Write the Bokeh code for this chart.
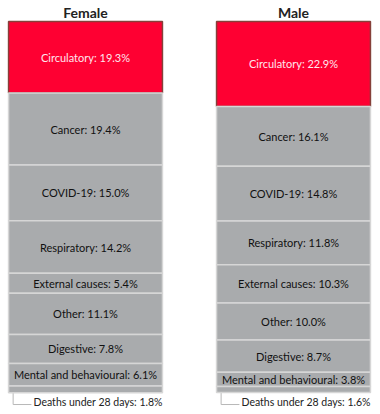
from bokeh.plotting import figure
from bokeh.models import Range1d, ColumnDataSource
from bokeh.core.properties import value
from bokeh.embed import file_html
from bokeh.resources import INLINE

# ---- data ----
sexes = ["Female", "Male"]
categories = ["Circulatory", "Cancer", "COVID-19", "Respiratory", "External causes",
              "Other", "Digestive", "Mental and behavioural", "Deaths under 28 days"]
female = [19.3, 19.4, 15.0, 14.2, 5.4, 11.1, 7.8, 6.1, 1.8]
male = [22.9, 16.1, 14.8, 11.8, 10.3, 10.0, 8.7, 3.8, 1.6]

RED = "#fe0032"
GRAY = "#a9abad"
FONT = "Lato"
BAR_W = 0.74

p = figure(width=380, height=414, output_backend="svg", toolbar_location=None,
           x_range=Range1d(-0.4087, 1.4183), y_range=Range1d(105.96, -5.66),
           min_border=0, min_border_left=0, min_border_right=0,
           min_border_top=0, min_border_bottom=0)
p.xaxis.visible = False
p.yaxis.visible = False
p.grid.visible = False
p.outline_line_color = None
p.background_fill_color = "white"
p.border_fill_color = "white"

bx, btop, bbot, bcol, blc = [], [], [], [], []
lx, ly, ltxt, lcol = [], [], [], []
for xi, vals in enumerate([female, male]):
    cum = 0.0
    for i, (cat, v) in enumerate(zip(categories, vals)):
        top, bot = cum, cum + v
        cum = bot
        bx.append(xi); btop.append(top); bbot.append(bot)
        bcol.append(RED if i == 0 else GRAY)
        blc.append("#86403a" if i == 0 else "#d6d6d6")
        if i < len(categories) - 1:
            lx.append(xi); ly.append((top + bot) / 2)
            ltxt.append(f"{cat}: {v:.1f}%")
            lcol.append("#ffe6ee" if i == 0 else "#111111")
    # leader line and label for last category
    left = xi - BAR_W / 2
    p.line([left + 0.022, left + 0.022, left + 0.11], [cum, 103.27, 103.27],
           line_color="#b8b8b8", line_width=1)
    p.text([left + 0.12], [102.5], text=[f"{categories[-1]}: {vals[-1]:.1f}%"],
           text_font=value(FONT), text_font_size="10.5px", text_color="#222222",
           text_align="left", text_baseline="middle")

src = ColumnDataSource(dict(x=bx, top=btop, bottom=bbot, color=bcol, lc=blc))
p.vbar(x="x", top="top", bottom="bottom", width=BAR_W, source=src,
       fill_color="color", line_color="lc", line_width=1.5)

lsrc = ColumnDataSource(dict(x=lx, y=ly, t=ltxt, c=lcol))
p.text(x="x", y="y", text="t", text_color="c", source=lsrc,
       text_font=value(FONT), text_font_size="11px",
       text_align="center", text_baseline="middle")

p.text(x=[0, 1], y=[-2.4, -2.4], text=sexes, text_font=value(FONT),
       text_font_size="14px", text_color="#222222", text_font_style="bold",
       text_align="center", text_baseline="middle")

open("out.html", "w").write(file_html(p, INLINE))
